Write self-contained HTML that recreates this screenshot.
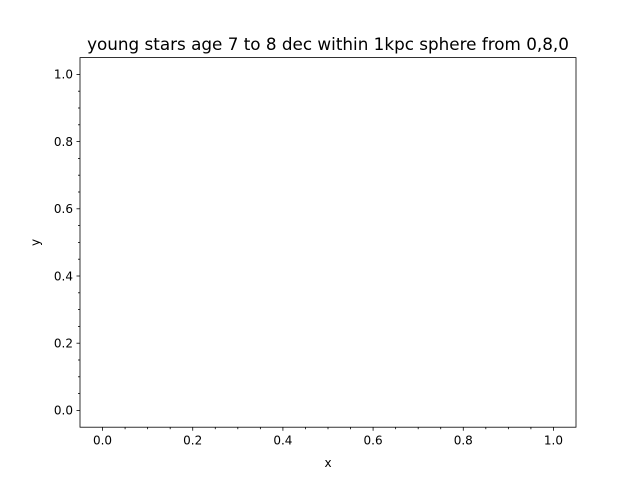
<!DOCTYPE html>
<html><head><meta charset="utf-8"><style>body{margin:0;background:#fff}svg{display:block}text{font-family:"DejaVu Sans","Liberation Sans",sans-serif;fill:#000}</style></head>
<body>
<svg id="chart" width="640" height="480">
<rect x="0" y="0" width="640" height="480" fill="#fff"/>
<text x="328" y="50" font-size="16.8" text-anchor="middle">young stars age 7 to 8 dec within 1kpc sphere from 0,8,0</text>
<text x="328" y="467" font-size="12" text-anchor="middle">x</text>
<text x="0" y="0" font-size="12" text-anchor="middle" transform="translate(39.5,242.4) rotate(-90)">y</text>
<g id="ticks"></g>
<rect x="80" y="57.6" width="496" height="369.6" fill="none" stroke="#000" stroke-width="0.8"/>
</svg>
<script>
const xTicks=[0,0.2,0.4,0.6,0.8,1.0];
const yTicks=[0,0.2,0.4,0.6,0.8,1.0];
const xTickLabels=["0.0","0.2","0.4","0.6","0.8","1.0"];
const yTickLabels=["0.0","0.2","0.4","0.6","0.8","1.0"];
const xDomain=[-0.05,1.05];
const yDomain=[-0.05,1.05];
const L=80,R=576,T=57.6,B=427.2;
const sx=v=>L+(v-xDomain[0])/(xDomain[1]-xDomain[0])*(R-L);
const sy=v=>B-(v-yDomain[0])/(yDomain[1]-yDomain[0])*(B-T);
const g=document.getElementById('ticks');const NS='http://www.w3.org/2000/svg';
function line(x1,y1,x2,y2,name){const l=document.createElementNS(NS,'line');
l.setAttribute('x1',x1);l.setAttribute('y1',y1);l.setAttribute('x2',x2);l.setAttribute('y2',y2);
l.setAttribute('stroke','#000');l.setAttribute('stroke-width','0.8');


g.appendChild(l);}
function txt(x,y,s,anchor,name){const t=document.createElementNS(NS,'text');
t.setAttribute('x',x);t.setAttribute('y',y);t.setAttribute('font-size','12');t.setAttribute('text-anchor',anchor);t.textContent=s;


g.appendChild(t);}
xTicks.forEach((v,i)=>{const x=sx(v);line(x,B,x,B+3.5,'x-tick');txt(x,B+17.5,xTickLabels[i],'middle','x-tick-label');});
yTicks.forEach((v,i)=>{const y=sy(v);line(L,y,L-3.5,y,'y-tick');txt(L-7,y+4.3,yTickLabels[i],'end','y-tick-label');});
for(let k=0;k<=20;k++){const v=k*0.05;if(Math.abs(v*5-Math.round(v*5))<1e-6)continue;
line(sx(v),B,sx(v),B+2,'x-minor-tick');line(L,sy(v),L-2,sy(v),'y-minor-tick');}
</script>
</body></html>
